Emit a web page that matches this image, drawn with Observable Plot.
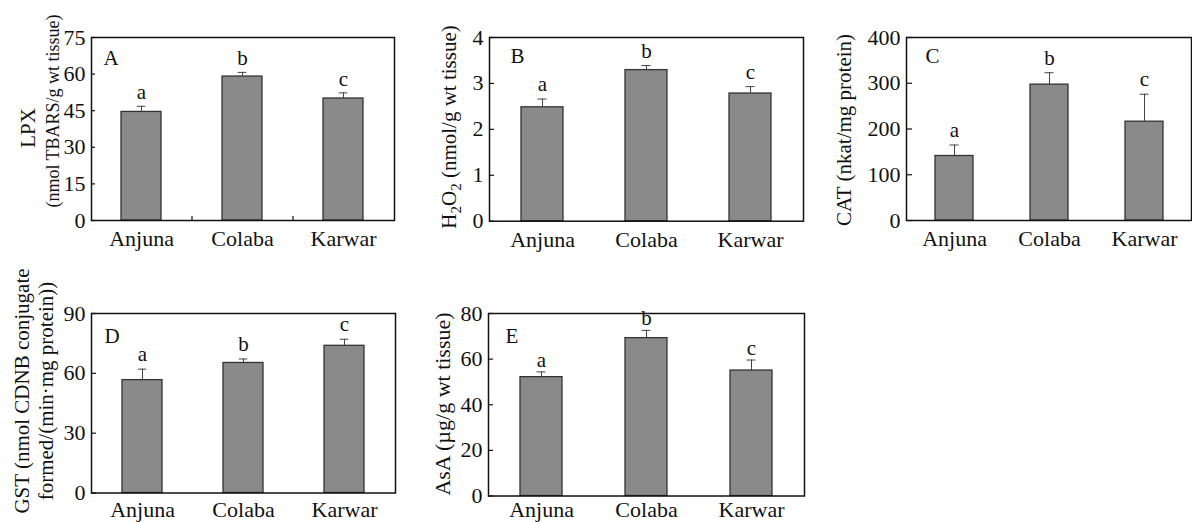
<!DOCTYPE html>
<html><head><meta charset="utf-8">
<script src="https://cdn.jsdelivr.net/npm/d3@7"></script>
<script src="https://cdn.jsdelivr.net/npm/@observablehq/plot@0.6"></script>
<style>
body{margin:0;background:#fff;}
#chart{position:relative;width:1192px;height:522px;overflow:hidden;background:#fff;font-family:"Liberation Serif","Times New Roman",serif;}
.panel{position:absolute;}
</style></head><body><div id="chart"></div>
<script>
// ---- data ----
const sites = ["Anjuna", "Colaba", "Karwar"];
const sigLetters = ["a", "b", "c"];
const panelIds = ["A", "B", "C", "D", "E"];

const lpxMean = [44.5, 59.0, 50.0];
const lpxErr = [2.3, 1.7, 2.3];
const lpxTicks = [0, 15, 30, 45, 60, 75];

const h2o2Mean = [2.48, 3.29, 2.78];
const h2o2Err = [0.18, 0.10, 0.15];
const h2o2Ticks = [0, 1, 2, 3, 4];

const catMean = [141, 297, 216];
const catErr = [24, 26, 60];
const catTicks = [0, 100, 200, 300, 400];

const gstMean = [56.6, 65.2, 73.8];
const gstErr = [5.5, 2.0, 3.3];
const gstTicks = [0, 30, 60, 90];

const asaMean = [52.1, 69.2, 55.0];
const asaErr = [2.3, 3.4, 4.6];
const asaTicks = [0, 20, 40, 60, 80];

// y-axis titles: lines of [text, isSubscript] segments
const lpxTitle = [[["LPX", false]], [["(nmol TBARS/g wt tissue)", false]]];
const h2o2Title = [[["H", false], ["2", true], ["O", false], ["2", true], [" (nmol/g wt tissue)", false]]];
const catTitle = [[["CAT (nkat/mg protein)", false]]];
const gstTitle = [[["GST (nmol CDNB conjugate", false]], [["formed/(min\u00B7mg protein))", false]]];
const asaTitle = [[["AsA (\u00B5g/g wt tissue)", false]]];

// ---- layout ----
const panels = [
  {id: "A", mean: lpxMean, err: lpxErr, ticks: lpxTicks, title: lpxTitle,
   left: 0, top: 0, width: 400, height: 262, mL: 91, mR: 6, mT: 37, mB: 42,
   titleX: [35, 59], titleY: [128, 111], titleSize: [21, 18], lx: 12, ly: 13, tickLen: 4, gap: 7, midTicks: true, pad: 10},
  {id: "B", mean: h2o2Mean, err: h2o2Err, ticks: h2o2Ticks, title: h2o2Title,
   left: 400, top: 0, width: 410, height: 262, mL: 89, mR: 7, mT: 37, mB: 41.3,
   titleX: [456], titleY: [127], titleSize: [21], lx: 21, ly: 11, tickLen: 5, gap: 8, midTicks: false, pad: 10},
  {id: "C", mean: catMean, err: catErr, ticks: catTicks, title: catTitle,
   left: 810, top: 0, width: 382, height: 262, mL: 96, mR: 1, mT: 37, mB: 42,
   titleX: [851], titleY: [130], titleSize: [21], lx: 19, ly: 11, tickLen: 6, gap: 8, midTicks: false, pad: 10},
  {id: "D", mean: gstMean, err: gstErr, ticks: gstTicks, title: gstTitle,
   left: 0, top: 262, width: 400, height: 260, mL: 91, mR: 5, mT: 51, mB: 29.5,
   titleX: [29, 53], titleY: [391, 391], titleSize: [21, 21], lx: 13, ly: 15, tickLen: 5, gap: 8, midTicks: false, pad: 8},
  {id: "E", mean: asaMean, err: asaErr, ticks: asaTicks, title: asaTitle,
   left: 400, top: 262, width: 410, height: 260, mL: 88, mR: 6, mT: 51, mB: 26.5,
   titleX: [450], titleY: [404], titleSize: [22], lx: 17, ly: 15, tickLen: 5, gap: 5, midTicks: false, pad: 5}
];

const chart = document.getElementById("chart");
const ink = "#111";
const fontStack = "'Liberation Serif','Times New Roman',serif";

for (const p of panels) {
  const rows = sites.map((s, i) => ({site: s, value: p.mean[i], err: p.err[i], letter: sigLetters[i]}));
  const plotW = p.width - p.mL - p.mR;
  const plotH = p.height - p.mT - p.mB;
  const step = plotW / 3;
  const bw = step * 0.4;
  const capHalf = 4.5;
  const marks = [
    Plot.barY(rows, {x: "site", y: "value", fill: "#8a8a8a", stroke: "#333", strokeWidth: 1.3}),
    Plot.ruleX(rows, {x: "site", y1: "value", y2: d => d.value + d.err, stroke: "#444", strokeWidth: 1}),
    Plot.tickY(rows, {x: "site", y: d => d.value + d.err, stroke: "#444", strokeWidth: 1,
      insetLeft: bw / 2 - capHalf, insetRight: bw / 2 - capHalf}),
    Plot.text(rows, {x: "site", y: d => d.value + d.err, text: "letter", dy: -p.gap,
      lineAnchor: "bottom", fontSize: 21, fill: ink}),
    Plot.ruleY(p.ticks, {stroke: ink, strokeWidth: 1.2, insetRight: plotW - p.tickLen}),
    Plot.axisY({ticks: p.ticks, tickFormat: d => String(d), tickSize: 0, tickPadding: 6,
      fontSize: 22, fill: ink, label: null}),
    Plot.axisX({tickSize: 0, tickPadding: p.pad, fontSize: 22, fill: ink, label: null}),
    Plot.text([p.id], {frameAnchor: "top-left", text: d => d, dx: p.lx, dy: p.ly,
      textAnchor: "start", lineAnchor: "top", fontSize: 21, fill: ink}),
    Plot.frame({stroke: ink, strokeWidth: 1.5})
  ];
  if (p.midTicks) {
    marks.push(Plot.ruleX(sites.slice(0, 2), {x: d => d, dx: step / 2, stroke: ink, strokeWidth: 1.2,
      insetTop: plotH - 4}));
  }
  const svg = Plot.plot({
    width: p.width, height: p.height,
    marginLeft: p.mL, marginRight: p.mR, marginTop: p.mT, marginBottom: p.mB,
    x: {domain: sites, paddingInner: 0.6, paddingOuter: 0.3, align: 0.5, axis: null},
    y: {domain: [0, p.ticks[p.ticks.length - 1]], axis: null},
    style: {fontFamily: fontStack, fontSize: "21px",
      background: "transparent", color: ink, overflow: "visible"},
    marks
  });
  // y-axis title (rotated, with optional subscripts)
  const g = d3.select(svg).append("g")
    .attr("font-family", fontStack)
    .attr("fill", ink);
  p.title.forEach((line, li) => {
    const t = g.append("text")
      .attr("transform", `translate(${p.titleX[li] - p.left},${p.titleY[li] - p.top}) rotate(-90)`)
      .attr("text-anchor", "middle")
      .style("font-size", p.titleSize[li] + "px");
    let shifted = false;
    for (const [txt, sub] of line) {
      const ts = t.append("tspan").text(txt);
      if (sub && !shifted) { ts.attr("dy", 5).style("font-size", "15px"); shifted = true; }
      else if (!sub && shifted) { ts.attr("dy", -5); shifted = false; }
      else if (sub) { ts.style("font-size", "15px"); }
    }
  });
  const div = document.createElement("div");
  div.className = "panel";
  div.style.left = p.left + "px";
  div.style.top = p.top + "px";
  div.appendChild(svg);
  chart.appendChild(div);
}
</script></body></html>
